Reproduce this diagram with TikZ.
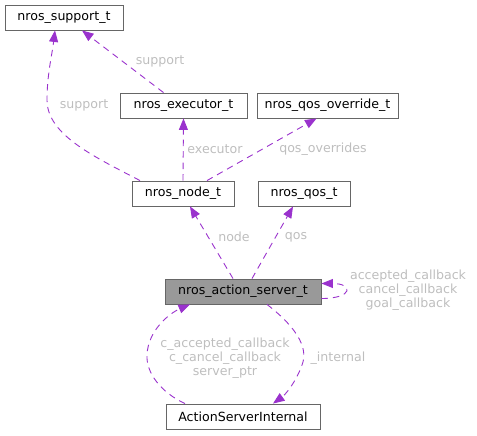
\documentclass[tikz,border=0pt]{standalone}
\usepackage{fontspec}
\setmainfont{DejaVu Sans}
\usetikzlibrary{arrows.meta,calc}
\definecolor{edgec}{HTML}{9A32CD}
\definecolor{labc}{HTML}{BEBEBE}
\definecolor{boxc}{HTML}{666666}
\definecolor{mainfill}{HTML}{999999}
\tikzset{
  box/.style={draw=boxc, line width=0.9pt, fill=white, minimum height=25pt, inner sep=0pt, text=black, font=\fontsize{12.6}{14}\selectfont},
  dep/.style={draw=edgec, line width=0.9pt, dash pattern=on 6.5pt off 5pt, -{Triangle[length=11.5pt,width=9pt]}},
  lab/.style={text=labc, align=center, inner sep=0pt, font=\fontsize{12.6}{14}\selectfont}
}
\begin{document}
\begin{tikzpicture}[x=1pt,y=-1pt]
\useasboundingbox (0,0) rectangle (477,436);
\node[box, minimum width=118pt] (sup) at (64,17.5) {nros\_support\_t};
\node[box, minimum width=127pt] (exe) at (183.5,105.5) {nros\_executor\_t};
\node[box, minimum width=141pt] (qov) at (327.5,105.5) {nros\_qos\_override\_t};
\node[box, minimum width=102pt] (nod) at (183,193.5) {nros\_node\_t};
\node[box, minimum width=92pt] (qos) at (304,193.5) {nros\_qos\_t};
\node[box, fill=mainfill, minimum width=156pt] (srv) at (243,291.5) {nros\_action\_server\_t};
\node[box, minimum width=154pt] (asi) at (243,416.5) {ActionServerInternal};

\draw[dep] ($(exe.north)+(-20,0)$) -- ($(sup.south)+(18,0)$);
\draw[dep] ($(nod.north)+(-43,0)$) .. controls (95,157) and (47,135) .. (47,100) .. controls (47,75) and (52,55) .. ($(sup.south)+(-9,0)$);
\draw[dep] (nod.north) -- (exe.south);
\draw[dep] ($(nod.north)+(24,0)$) -- ($(qov.south)+(-11,0)$);
\draw[dep] ($(srv.north)+(-10,0)$) -- ($(nod.south)+(7,0)$);
\draw[dep] ($(srv.north)+(9,0)$) -- ($(qos.south)+(-11,0)$);
\draw[dep] ($(srv.east)+(0,7)$) .. controls +(32,0) and +(32,0) .. ($(srv.east)+(0,-8)$);
\draw[dep] ($(srv.south)+(24,0)$) .. controls (300,330) and (308,350) .. (302,365) .. controls (296,382) and (285,395) .. ($(asi.north)+(30,0)$);
\draw[dep] ($(asi.north)+(-58,0)$) .. controls (160,392) and (146,372) .. (147,355) .. controls (148,330) and (170,313) .. ($(srv.south)+(-53,0)$);

\node[lab] (l1) at (160,61) {support};
\node[lab] (l2) at (84,105) {support};
\node[lab] (l3) at (215,149) {executor};
\node[lab] (l4) at (323,149) {qos\_overrides};
\node[lab] (l5) at (234,237) {node};
\node[lab] (l6) at (296,237) {qos};
\node[lab] (l7) at (408,290) {accepted\_callback\\cancel\_callback\\goal\_callback};
\node[lab] (l8) at (225,358) {c\_accepted\_callback\\c\_cancel\_callback\\server\_ptr};
\node[lab] (l9) at (338,358) {\_internal};
\end{tikzpicture}
\end{document}
